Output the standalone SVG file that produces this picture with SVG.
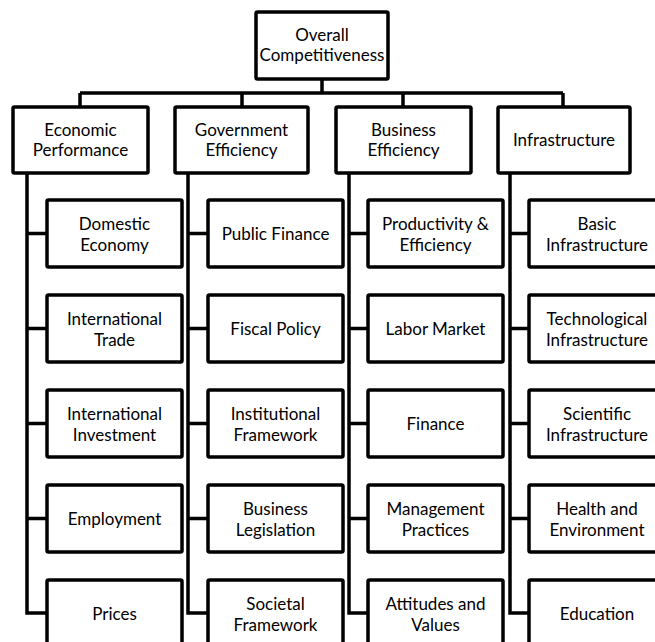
<svg xmlns="http://www.w3.org/2000/svg" width="655" height="642" viewBox="0 0 655 642">
<style>
.box{fill:#fff;stroke:#000;stroke-width:3.5;rx:1.5}
.ln{fill:none;stroke:#000;stroke-width:3.5;stroke-linejoin:miter}
text{font-family:Lato,"Liberation Sans",sans-serif;font-size:17px;fill:#000;text-anchor:middle}
</style>
<rect width="655" height="642" fill="#fff"/>
<g id="connectors">
<path class="ln" d="M322,79V93M80,93H563M80,93V107M242,93V107M403,93V107M563,93V107"/>
<path class="ln" d="M27,173V613H47M27,233.5H47M27,328.5H47M27,423.5H47M27,518.5H47"/>
<path class="ln" d="M188,173V613H208M188,233.5H208M188,328.5H208M188,423.5H208M188,518.5H208"/>
<path class="ln" d="M349,173V613H368M349,233.5H368M349,328.5H368M349,423.5H368M349,518.5H368"/>
<path class="ln" d="M510,173V613H529M510,233.5H529M510,328.5H529M510,423.5H529M510,518.5H529"/>
</g>
<g id="overall"><rect class="box" x="256" y="12" width="132" height="67"/><text x="322" y="41">Overall</text><text x="322" y="61">Competitiveness</text></g>
<g id="economic-performance"><rect class="box" x="13" y="107" width="135" height="66"/><text x="80.5" y="136">Economic</text><text x="80.5" y="156">Performance</text></g>
<g id="government-efficiency"><rect class="box" x="175" y="107" width="133" height="66"/><text x="241.5" y="136">Government</text><text x="241.5" y="156">Efficiency</text></g>
<g id="business-efficiency"><rect class="box" x="336" y="107" width="135" height="66"/><text x="403.5" y="136">Business</text><text x="403.5" y="156">Efficiency</text></g>
<g id="infrastructure"><rect class="box" x="498" y="107" width="132" height="66"/><text x="564" y="146">Infrastructure</text></g>

<g id="domestic-economy"><rect class="box" x="47" y="200" width="135" height="67"/><text x="114.5" y="230">Domestic</text><text x="114.5" y="251">Economy</text></g>
<g id="international-trade"><rect class="box" x="47" y="295" width="135" height="67"/><text x="114.5" y="325">International</text><text x="114.5" y="346">Trade</text></g>
<g id="international-investment"><rect class="box" x="47" y="390" width="135" height="67"/><text x="114.5" y="420">International</text><text x="114.5" y="441">Investment</text></g>
<g id="employment"><rect class="box" x="47" y="485" width="135" height="67"/><text x="114.5" y="525">Employment</text></g>
<g id="prices"><rect class="box" x="47" y="580" width="135" height="67"/><text x="114.5" y="620">Prices</text></g>

<g id="public-finance"><rect class="box" x="208" y="200" width="135" height="67"/><text x="275.5" y="240">Public Finance</text></g>
<g id="fiscal-policy"><rect class="box" x="208" y="295" width="135" height="67"/><text x="275.5" y="335">Fiscal Policy</text></g>
<g id="institutional-framework"><rect class="box" x="208" y="390" width="135" height="67"/><text x="275.5" y="420">Institutional</text><text x="275.5" y="441">Framework</text></g>
<g id="business-legislation"><rect class="box" x="208" y="485" width="135" height="67"/><text x="275.5" y="515">Business</text><text x="275.5" y="536">Legislation</text></g>
<g id="societal-framework"><rect class="box" x="208" y="580" width="135" height="67"/><text x="275.5" y="610">Societal</text><text x="275.5" y="631">Framework</text></g>

<g id="productivity-efficiency"><rect class="box" x="368" y="200" width="135" height="67"/><text x="435.5" y="230">Productivity &amp;</text><text x="435.5" y="251">Efficiency</text></g>
<g id="labor-market"><rect class="box" x="368" y="295" width="135" height="67"/><text x="435.5" y="335">Labor Market</text></g>
<g id="finance"><rect class="box" x="368" y="390" width="135" height="67"/><text x="435.5" y="430">Finance</text></g>
<g id="management-practices"><rect class="box" x="368" y="485" width="135" height="67"/><text x="435.5" y="515">Management</text><text x="435.5" y="536">Practices</text></g>
<g id="attitudes-values"><rect class="box" x="368" y="580" width="135" height="67"/><text x="435.5" y="610">Attitudes and</text><text x="435.5" y="631">Values</text></g>

<g id="basic-infrastructure"><rect class="box" x="529" y="200" width="135" height="67"/><text x="597" y="230">Basic</text><text x="597" y="251">Infrastructure</text></g>
<g id="technological-infrastructure"><rect class="box" x="529" y="295" width="135" height="67"/><text x="597" y="325">Technological</text><text x="597" y="346">Infrastructure</text></g>
<g id="scientific-infrastructure"><rect class="box" x="529" y="390" width="135" height="67"/><text x="597" y="420">Scientific</text><text x="597" y="441">Infrastructure</text></g>
<g id="health-environment"><rect class="box" x="529" y="485" width="135" height="67"/><text x="597" y="515">Health and</text><text x="597" y="536">Environment</text></g>
<g id="education"><rect class="box" x="529" y="580" width="135" height="67"/><text x="597" y="620">Education</text></g>
</svg>
